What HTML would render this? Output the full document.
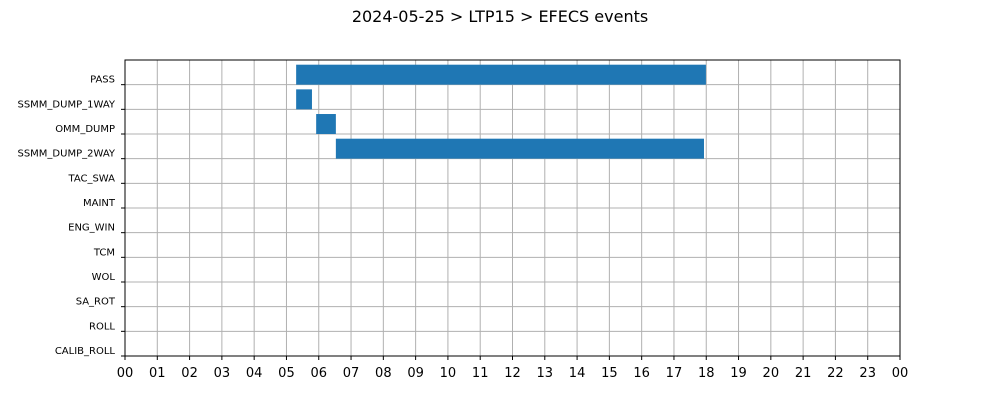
<!DOCTYPE html>
<html><head><meta charset="utf-8"><style>
body{margin:0;background:#fff;width:1000px;height:400px;overflow:hidden;font-family:"DejaVu Sans","Liberation Sans",sans-serif}
</style></head><body>
<svg id="chart" width="1000" height="400" xmlns="http://www.w3.org/2000/svg">
<text x="500" y="22" text-anchor="middle" font-size="16" fill="#000">2024-05-25 &gt; LTP15 &gt; EFECS events</text>
<g id="grid"></g><g id="bars"></g><g id="axes"></g>
<rect x="125" y="60" width="775" height="296" fill="none" stroke="#000" stroke-width="1"/>
</svg>
<script>
const categories=["CALIB_ROLL","ROLL","SA_ROT","WOL","TCM","ENG_WIN","MAINT","TAC_SWA","SSMM_DUMP_2WAY","OMM_DUMP","SSMM_DUMP_1WAY","PASS"];
const barCategories=["PASS","SSMM_DUMP_1WAY","OMM_DUMP","SSMM_DUMP_2WAY"];
const barStarts=[5.30,5.30,5.92,6.53];
const barEnds=[17.99,5.79,6.53,17.93];
const xTickLabels=["00","01","02","03","04","05","06","07","08","09","10","11","12","13","14","15","16","17","18","19","20","21","22","23","00"];
const NS="http://www.w3.org/2000/svg";
const X0=125,X1=900,Y0=356,Y1=60;
const xs=h=>X0+(X1-X0)*h/24;
const ys=v=>Y0-(Y0-Y1)*v/12;
function mk(tag,attrs,parent){const e=document.createElementNS(NS,tag);for(const k in attrs)e.setAttribute(k,attrs[k]);parent.appendChild(e);return e;}
const grid=document.getElementById('grid'),bars=document.getElementById('bars'),axes=document.getElementById('axes');
xTickLabels.forEach((lab,i)=>{
 const x=xs(i);
 const g=mk('line',{x1:x,x2:x,y1:Y1,y2:Y0,stroke:'#b0b0b0','stroke-width':1},grid);
 
 
 const t=mk('line',{x1:x,x2:x,y1:Y0,y2:Y0+4,stroke:'#000'},axes);
 
 
 const tx=mk('text',{x:x,y:Y0+21,'text-anchor':'middle','font-size':'13',fill:'#000'},axes);
 tx.textContent=lab;
 
 
});
categories.forEach((c,i)=>{
 const y=ys(i);
 const g=mk('line',{x1:X0,x2:X1,y1:y,y2:y,stroke:'#b0b0b0','stroke-width':1},grid);
 
 
 const t=mk('line',{x1:X0-4,x2:X0,y1:y,y2:y,stroke:'#000'},axes);
 
 
 const tx=mk('text',{x:X0-10,y:y-2,'text-anchor':'end','font-size':'10',fill:'#000'},axes);
 tx.textContent=c;
 
 
});
barCategories.forEach((c,i)=>{
 const v=categories.indexOf(c);
 const x=xs(barStarts[i]),w=xs(barEnds[i])-x;
 const r=mk('rect',{x:x,y:ys(v+0.81),width:w,height:ys(v)-ys(v+0.81),fill:'#1f77b4'},bars);
 
 
});
</script>
</body></html>
